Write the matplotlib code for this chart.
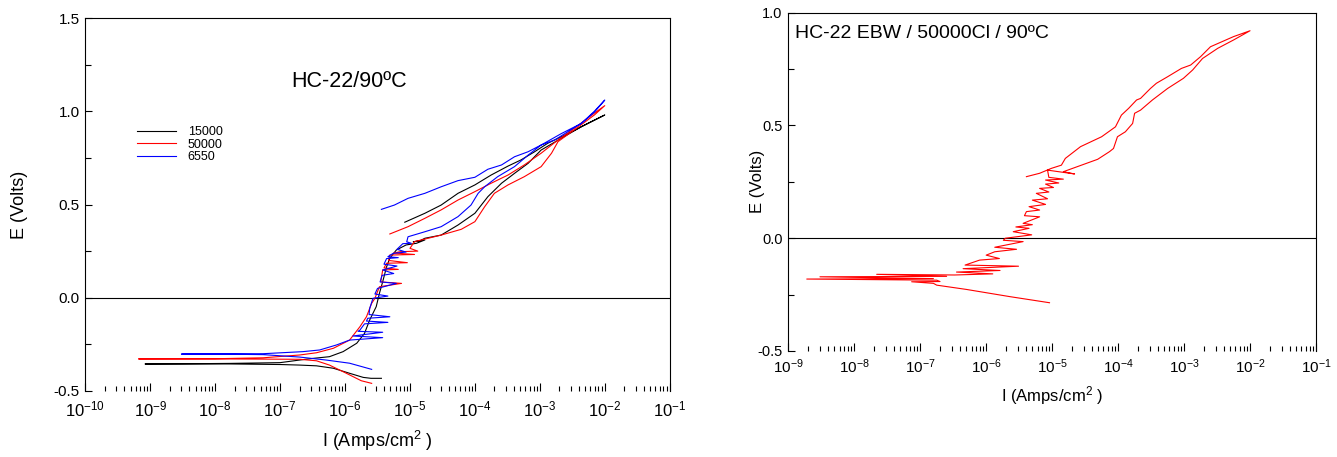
import numpy as np
import matplotlib
matplotlib.use('Agg')
import matplotlib.pyplot as plt
from matplotlib.ticker import LogLocator, NullFormatter, MultipleLocator, FormatStrFormatter

plt.rcParams['font.family'] = ['Liberation Sans', 'DejaVu Sans']
plt.rcParams['mathtext.fontset'] = 'custom'
plt.rcParams['mathtext.rm'] = 'Liberation Sans'
plt.rcParams['mathtext.it'] = 'Liberation Sans:italic'
plt.rcParams['mathtext.bf'] = 'Liberation Sans:bold'
plt.rcParams['axes.unicode_minus'] = False

# ---------------- data: left chart (log10 of current density, potential) ----------------
labels_left = ['15000', '50000', '6550']
colors_left = ['black', 'red', 'blue']

black_logI = [-5.44, -5.60, -5.72, -5.93, -6.18, -6.44, -6.70, -7.00, -7.77, -8.50, -9.08,
              -8.50, -7.77, -7.00, -6.70, -6.49, -6.24, -6.03, -5.82, -5.70, -5.62,
              -5.52, -5.47, -5.42, -5.36, -5.31, -5.21, -5.06, -4.90, -4.77, -4.95, -4.85,
              -4.77, -4.52, -4.26, -4.00, -3.80, -3.59, -3.39, -3.18, -2.98, -2.67, -2.36, -2.00,
              -2.26, -2.57, -2.88, -3.08, -3.29, -3.49, -3.75, -4.00, -4.26, -4.52, -4.77, -5.08]
black_E = [-0.432, -0.432, -0.427, -0.405, -0.378, -0.365, -0.361, -0.358, -0.355, -0.355, -0.355,
           -0.354, -0.352, -0.348, -0.334, -0.325, -0.316, -0.289, -0.244, -0.191, -0.119,
           -0.048, 0.024, 0.086, 0.166, 0.212, 0.256, 0.283, 0.292, 0.310, 0.300, 0.305,
           0.319, 0.336, 0.390, 0.453, 0.542, 0.614, 0.667, 0.721, 0.792, 0.855, 0.917, 0.980,
           0.935, 0.880, 0.828, 0.783, 0.739, 0.706, 0.658, 0.605, 0.560, 0.497, 0.453, 0.405]

red_logI = [-5.59, -5.75, -5.98, -6.24, -6.44, -6.70, -7.26, -8.00, -9.18,
            -8.00, -7.26, -6.70, -6.44, -6.18, -5.93, -5.77, -5.67, -5.59, -5.54,
            -5.47, -5.13, -5.45, -5.42, -5.18, -5.40, -5.36, -5.04, -5.33, -5.31, -4.93, -5.25, -5.15, -4.88, -5.00,
            -4.93, -4.52, -4.21, -4.00, -3.85, -3.70, -3.49, -3.24, -2.98, -2.82, -2.72, -2.47, -2.16, -2.00,
            -2.16, -2.47, -2.72, -2.98, -3.24, -3.49, -3.75, -4.00, -4.26, -4.52, -4.77, -5.03, -5.31]
red_E = [-0.459, -0.445, -0.405, -0.361, -0.338, -0.330, -0.329, -0.328, -0.328,
         -0.327, -0.322, -0.307, -0.295, -0.271, -0.227, -0.155, -0.102, -0.030, -0.003,
         0.059, 0.077, 0.085, 0.149, 0.152, 0.160, 0.185, 0.188, 0.200, 0.229, 0.232, 0.240, 0.247, 0.250, 0.265,
         0.301, 0.336, 0.367, 0.408, 0.488, 0.560, 0.605, 0.649, 0.703, 0.775, 0.837, 0.900, 0.980, 1.030,
         0.990, 0.909, 0.846, 0.775, 0.712, 0.658, 0.614, 0.569, 0.524, 0.471, 0.426, 0.381, 0.342]

blue_logI = [-5.59, -5.93, -6.29, -6.70, -7.26, -8.00, -8.52,
             -8.00, -7.26, -6.65, -6.39, -6.13, -5.93,
             -5.42, -5.88, -5.42, -5.80, -5.77, -5.70, -5.34, -5.67, -5.65, -5.31, -5.63, -5.62, -5.57,
             -5.34, -5.54, -5.50, -5.21, -5.46, -5.43, -5.25, -5.42, -5.20, -5.40, -5.36, -5.18, -5.34,
             -5.26, -5.06, -5.20, -5.11, -4.98, -5.05,
             -5.03, -4.77, -4.52, -4.26, -4.06, -3.95, -3.85, -3.65, -3.39, -3.18, -2.98, -2.67, -2.36, -2.16, -2.00,
             -2.16, -2.36, -2.57, -2.77, -2.98, -3.18, -3.39, -3.59, -3.80, -4.00, -4.26, -4.52, -4.77, -5.03, -5.24, -5.44]
blue_E = [-0.384, -0.351, -0.334, -0.318, -0.305, -0.302, -0.302,
          -0.301, -0.300, -0.289, -0.280, -0.253, -0.227,
          -0.214, -0.205, -0.185, -0.180, -0.173, -0.140, -0.132, -0.125, -0.110, -0.102, -0.090, -0.057, -0.003,
          0.009, 0.020, 0.050, 0.077, 0.085, 0.120, 0.130, 0.149, 0.170, 0.180, 0.210, 0.215, 0.220,
          0.238, 0.245, 0.260, 0.290, 0.292, 0.300,
          0.327, 0.354, 0.381, 0.435, 0.497, 0.560, 0.595, 0.649, 0.703, 0.765, 0.819, 0.880, 0.935, 1.000, 1.060,
          0.995, 0.935, 0.890, 0.846, 0.819, 0.783, 0.756, 0.712, 0.689, 0.646, 0.628, 0.595, 0.560, 0.533, 0.497, 0.474]

# ---------------- data: right chart ----------------
ebw_logI = [-5.04, -5.64, -6.30, -6.75, -6.80, -7.13, -6.70, -6.75, -8.72, -6.80, -8.52, -6.60, -7.66, -6.48,
            -5.90, -6.45, -5.79, -6.35, -5.51, -6.32, -6.10, -5.80, -6.00, -5.87, -5.54, -5.87, -5.44, -5.74, -5.71,
            -5.31, -5.59, -5.35, -5.55, -5.30, -5.44, -5.19, -5.42, -5.39, -5.19, -5.35, -5.10, -5.30, -5.07,
            -5.24, -5.05, -5.19, -4.98, -5.10, -4.90, -5.10, -4.83, -5.05, -5.07, -4.66, -4.83,
            -4.31, -4.13, -4.07, -4.01, -3.89, -3.78, -3.75, -3.66, -3.48, -3.25, -3.01, -2.87, -2.72, -2.49, -2.25, -2.00,
            -2.25, -2.60, -2.75, -2.90, -3.04, -3.25, -3.42, -3.51, -3.66, -3.72, -3.84, -3.95, -4.04, -4.25,
            -4.57, -4.80, -4.86, -5.01, -5.19, -5.39]
ebw_E = [-0.286, -0.259, -0.227, -0.208, -0.200, -0.193, -0.192, -0.186, -0.181, -0.179, -0.171, -0.169, -0.160, -0.163,
         -0.158, -0.150, -0.143, -0.135, -0.124, -0.119, -0.097, -0.090, -0.075, -0.060, -0.049, -0.040, -0.015, -0.009, 0.000,
         0.015, 0.029, 0.044, 0.050, 0.060, 0.066, 0.095, 0.100, 0.118, 0.125, 0.140, 0.150, 0.169, 0.175,
         0.199, 0.205, 0.221, 0.225, 0.240, 0.245, 0.258, 0.262, 0.270, 0.302, 0.285, 0.295,
         0.350, 0.384, 0.398, 0.450, 0.472, 0.509, 0.554, 0.568, 0.613, 0.664, 0.709, 0.746, 0.797, 0.842, 0.879, 0.920,
         0.894, 0.849, 0.805, 0.768, 0.753, 0.716, 0.687, 0.664, 0.620, 0.613, 0.576, 0.546, 0.494, 0.450,
         0.406, 0.354, 0.324, 0.310, 0.288, 0.273]

left_title = 'HC-22/90ºC'
right_title = 'HC-22 EBW / 50000Cl / 90ºC'
xlabel_text = 'I (Amps/cm$^{2}$ )'
ylabel_text = 'E (Volts)'

W, H = 1337, 457
fig = plt.figure(figsize=(W / 100, H / 100), dpi=100)
ax1 = fig.add_axes([85.3 / W, 1 - 391 / H, (669.7 - 85.3) / W, (391 - 18) / H])
ax2 = fig.add_axes([788.3 / W, 1 - 351 / H, (1316 - 788.3) / W, (351 - 12.7) / H])


def style(ax, xlo, xhi, ylo, yhi, xfs, yfs, xpad):
    ax.set_xscale('log')
    ax.set_xlim(10.0 ** xlo, 10.0 ** xhi)
    ax.set_ylim(ylo, yhi)
    ax.xaxis.set_major_locator(LogLocator(base=10, numticks=30))
    ax.xaxis.set_minor_locator(LogLocator(base=10, subs=np.arange(2, 10), numticks=30))
    ax.xaxis.set_minor_formatter(NullFormatter())
    ax.yaxis.set_major_locator(MultipleLocator(0.5))
    ax.yaxis.set_minor_locator(MultipleLocator(0.25))
    ax.yaxis.set_major_formatter(FormatStrFormatter('%.1f'))
    ax.tick_params(axis='both', which='both', direction='in', top=False, right=False, width=0.8)
    ax.tick_params(axis='x', which='major', length=6, pad=xpad, labelsize=xfs)
    ax.tick_params(axis='x', which='minor', length=3.5)
    ax.tick_params(axis='y', which='major', length=5, pad=4, labelsize=yfs)
    ax.tick_params(axis='y', which='minor', length=4)
    ax.spines['bottom'].set_visible(False)
    for s in ['left', 'top', 'right']:
        ax.spines[s].set_linewidth(0.8)
    ax.axhline(0, color='black', lw=0.8, zorder=1)


style(ax1, -10, -1, -0.5, 1.5, 12, 11, 6)
style(ax2, -9, -1, -0.5, 1.0, 11, 10.5, 4.5)

series_left = [(black_logI, black_E), (red_logI, red_E), (blue_logI, blue_E)]
for (li, ev), col, lab in zip(series_left, colors_left, labels_left):
    ax1.plot(10.0 ** np.array(li), ev, color=col, lw=0.8, label=lab, zorder=3)

ax2.plot(10.0 ** np.array(ebw_logI), ebw_E, color='red', lw=0.8, zorder=3)

ax1.text(0.451, 0.831, left_title, transform=ax1.transAxes, ha='center', va='center', fontsize=15.5)
ax2.text(0.013, 0.939, right_title, transform=ax2.transAxes, ha='left', va='center', fontsize=14)

leg = ax1.legend(loc='upper left', bbox_to_anchor=(0.0885, 0.7105), frameon=False, fontsize=9,
                 handlelength=3.1, handletextpad=0.95, labelspacing=0.05, borderpad=0, borderaxespad=0)

ax1.set_xlabel(xlabel_text, fontsize=13)
ax1.xaxis.label.set_va('baseline')
ax1.xaxis.set_label_coords(0.5, -0.149)
ax1.set_ylabel(ylabel_text, fontsize=13)
ax1.yaxis.label.set_va('center')
ax1.yaxis.set_label_coords(-0.112, 0.5)

ax2.set_xlabel(xlabel_text, fontsize=12)
ax2.xaxis.label.set_va('baseline')
ax2.xaxis.set_label_coords(0.5, -0.150)
ax2.set_ylabel(ylabel_text, fontsize=12)
ax2.yaxis.label.set_va('center')
ax2.yaxis.set_label_coords(-0.059, 0.5)

fig.savefig('out.png', dpi=100)
